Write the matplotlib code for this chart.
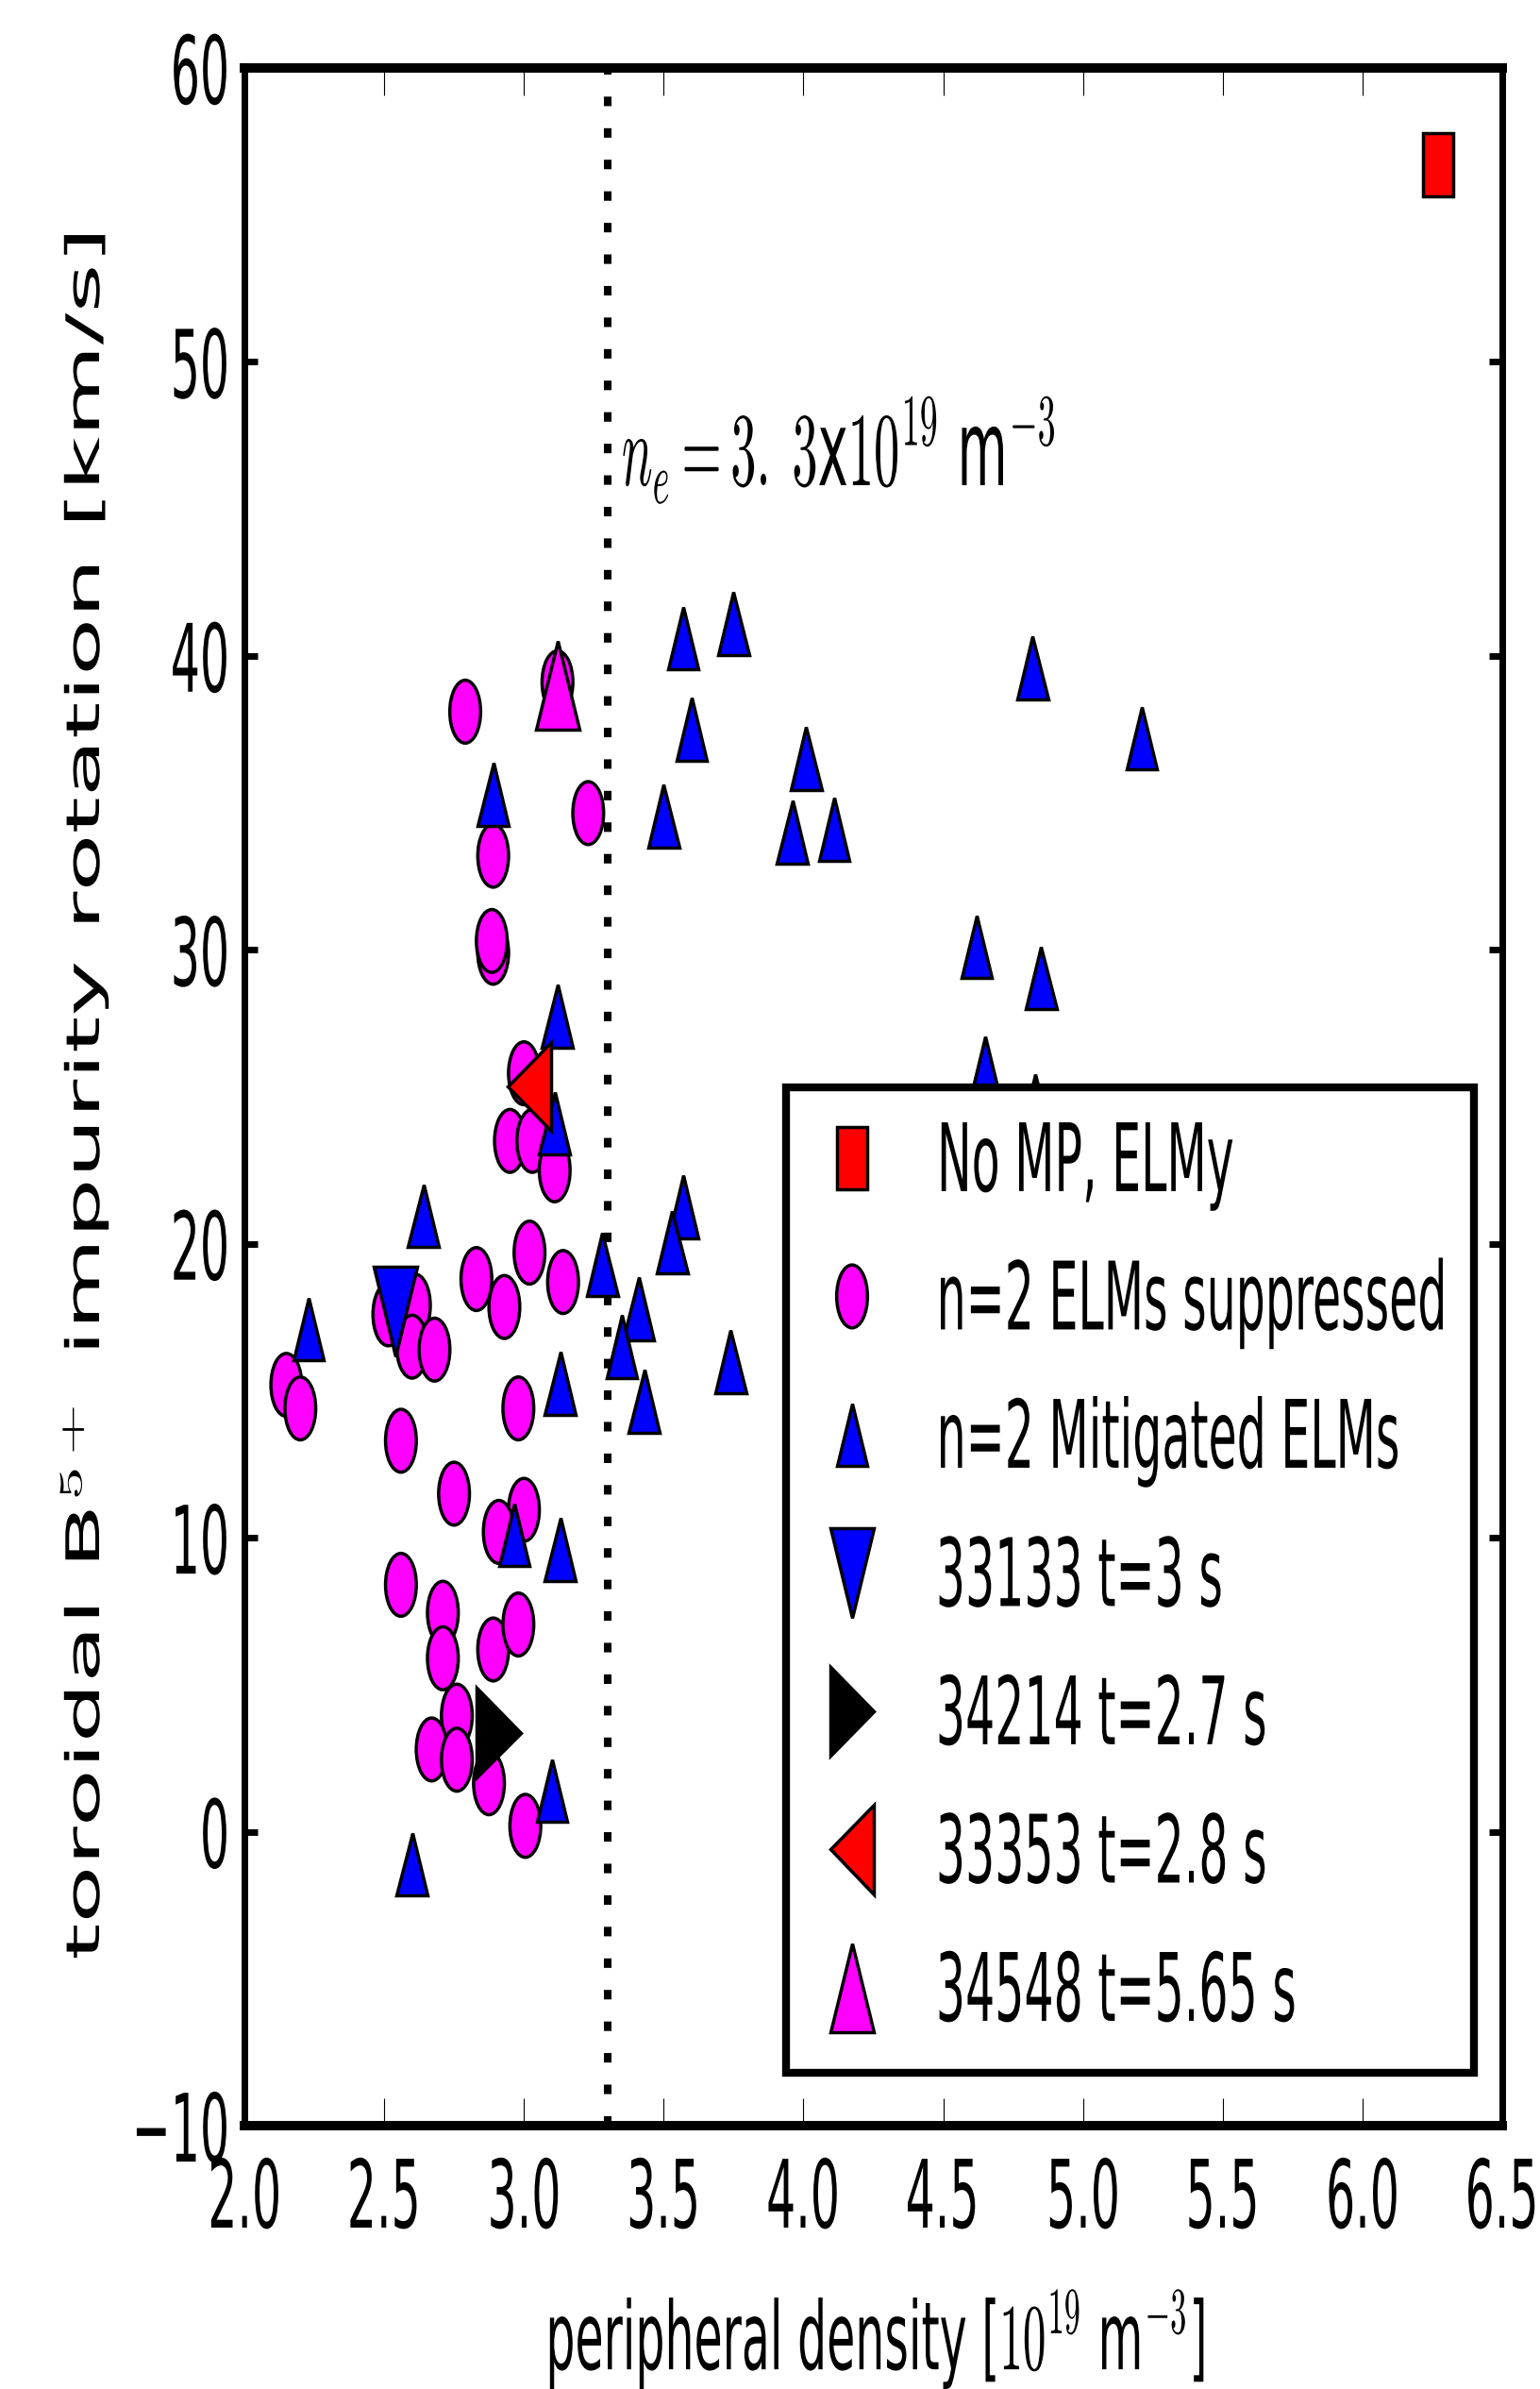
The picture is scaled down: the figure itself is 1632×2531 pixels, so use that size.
import matplotlib
matplotlib.use("Agg")
import matplotlib.pyplot as plt
from matplotlib.patheffects import AbstractPathEffect
from matplotlib.transforms import Affine2D

# Werte
noelm_dens = [6.27]
noelm_rot = [56.7]

supp_dens = [2.79, 3.12, 2.89, 3.23, 2.89, 2.885, 3.00, 2.95, 3.03, 3.11,
             2.83, 2.93, 3.02, 3.14, 2.15, 2.20, 2.515, 2.61, 2.60, 2.68,
             2.56, 2.98, 2.75, 3.00, 2.91, 2.56, 2.71, 2.71, 2.89, 2.98,
             2.76, 2.67, 2.76, 2.875, 3.005]
supp_rot = [38.1, 39.1, 33.2, 34.65, 29.9, 30.3, 25.8, 23.5, 23.5, 22.5,
            18.8, 17.85, 19.7, 18.7, 15.2, 14.4, 17.6, 17.9, 16.5, 16.4,
            13.3, 14.4, 11.5, 10.95, 10.2, 8.4, 7.45, 5.9, 6.2, 7.05,
            3.95, 2.8, 2.45, 1.65, 0.2]

mitig_dens = [2.89, 3.12, 3.57, 3.75, 4.82, 3.60, 4.01, 3.50, 3.96, 4.11,
              4.62, 4.85, 4.65, 4.83, 5.21, 3.11, 2.64, 3.28, 3.41, 3.35,
              3.43, 2.23, 3.13, 3.57, 3.53, 3.74, 2.965, 3.13, 3.10, 2.60]
mitig_rot = [35.3, 27.75, 40.6, 41.1, 39.6, 37.5, 36.5, 34.55, 34.0, 34.1,
             30.1, 29.05, 26.0, 24.7, 37.2, 24.1, 20.95, 19.3, 17.8, 16.5,
             14.65, 17.1, 15.25, 21.25, 20.05, 16.0, 10.1, 9.6, 1.4, -1.1]

shot_33133 = (2.54, 17.7)
shot_34214 = (2.91, 3.37)
shot_33353 = (3.02, 25.35)
shot_34548 = (3.12, 39.0)

ne_limit = 3.3

x_ticks = [2.0, 2.5, 3.0, 3.5, 4.0, 4.5, 5.0, 5.5, 6.0, 6.5]
y_ticks = [-10, 0, 10, 20, 30, 40, 50, 60]

SQ = 0.49  # horizontale Stauchung wie im Original


class Squeeze(AbstractPathEffect):
    """Staucht Text/Marker horizontal um einen Ankerpunkt."""

    def __init__(self, fx=SQ, anchor="center"):
        super().__init__()
        self.fx = fx
        self.anchor = anchor

    def draw_path(self, renderer, gc, tpath, affine, rgbFace=None):
        ext = tpath.get_extents(affine)
        if self.anchor == "left":
            x0 = ext.x0
        elif self.anchor == "right":
            x0 = ext.x1
        else:
            x0 = 0.5 * (ext.x0 + ext.x1)
        sq = Affine2D().translate(-x0, 0).scale(self.fx, 1).translate(x0, 0)
        renderer.draw_path(gc, tpath, affine + sq, rgbFace)


plt.rcParams["font.family"] = ["DejaVu Sans"]
plt.rcParams["mathtext.fontset"] = "cm"

fig = plt.figure(figsize=(16.32, 25.31), dpi=100)
ax = fig.add_axes([0.1587, 0.1102, 0.8168, 0.8614])

ms = 48
ms_big = 68
mew = 2.5

lines = []
lines += ax.plot(noelm_dens, noelm_rot, ls="none", marker="s", ms=ms, mew=mew,
                 mfc="#ff0000", mec="k", label="No MP, ELMy")
lines += ax.plot(supp_dens, supp_rot, ls="none", marker="o", ms=ms, mew=mew,
                 mfc="#ff00ff", mec="k", label="n=2 ELMs suppressed")
lines += ax.plot(mitig_dens, mitig_rot, ls="none", marker="^", ms=ms, mew=mew,
                 mfc="#0000ff", mec="k", label="n=2 Mitigated ELMs")
lines += ax.plot([shot_33133[0]], [shot_33133[1]], ls="none", marker="v", ms=ms_big,
                 mew=mew, mfc="#0000ff", mec="k", label="33133 t=3 s")
lines += ax.plot([shot_34214[0]], [shot_34214[1]], ls="none", marker=">", ms=ms_big,
                 mew=mew, mfc="k", mec="k", label="34214 t=2.7 s")
lines += ax.plot([shot_33353[0]], [shot_33353[1]], ls="none", marker="<", ms=ms_big,
                 mew=mew, mfc="#ff0000", mec="k", label="33353 t=2.8 s")
lines += ax.plot([shot_34548[0]], [shot_34548[1]], ls="none", marker="^", ms=ms_big,
                 mew=mew, mfc="#ff00ff", mec="k", label="34548 t=5.65 s")
for ln in lines:
    ln.set_path_effects([Squeeze()])

ax.axvline(ne_limit, color="k", lw=5.8, linestyle=(0, (1.25, 2.9)), zorder=1)

ann = ax.text(3.345, 45.8, r"$n_e = 3.\;3$x$10^{19}$ m$^{-3}$", fontsize=80,
              ha="left", va="baseline")
ann.set_path_effects([Squeeze(anchor="left")])

ax.set_xlim(2.0, 6.5)
ax.set_ylim(-10, 60)
ax.set_xticks(x_ticks)
ax.set_yticks(y_ticks)

for side in ["top", "bottom"]:
    ax.spines[side].set_linewidth(7.2)
for side in ["left", "right"]:
    ax.spines[side].set_linewidth(5)

ax.tick_params(axis="x", direction="in", length=21, width=0.8, top=True,
               labelsize=72, pad=23)
ax.tick_params(axis="y", direction="in", length=10, width=5, right=True,
               labelsize=72, pad=9)
for t in ax.xaxis.get_major_ticks():
    t.label1.set_path_effects([Squeeze()])
for t in ax.yaxis.get_major_ticks():
    t.label1.set_path_effects([Squeeze(anchor="right")])

ax.set_xlabel(r"peripheral density [$10^{19}$ m$^{-3}$]", fontsize=72, va="center")
ax.xaxis.set_label_coords(0.5, -0.1037)
ax.xaxis.label.set_path_effects([Squeeze()])

ax.set_ylabel(r"toroidal B$^{5+}$ impurity rotation [km/s]", fontsize=72, va="center")
ax.yaxis.set_label_coords(-0.1275, 0.5)
ax.yaxis.label.set_path_effects([Squeeze()])

leg = ax.legend(loc="upper left", bbox_to_anchor=(0.4306, 0.0243, 0.547, 0.4803),
                mode="expand", borderaxespad=0, fontsize=72, numpoints=1,
                handlelength=0.72, handletextpad=0.49, borderpad=0.34,
                labelspacing=0.495, fancybox=False, framealpha=1)
leg.get_frame().set_linewidth(6)
leg.get_frame().set_edgecolor("k")
for txt in leg.get_texts():
    txt.set_path_effects([Squeeze(anchor="left")])

fig.savefig("out.png", dpi=100)
